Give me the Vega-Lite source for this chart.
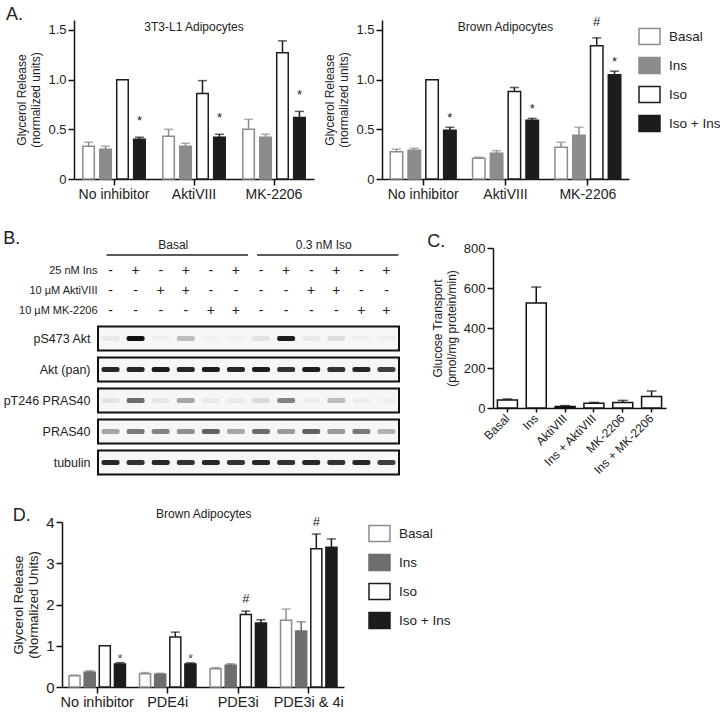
{
  "$schema": "https://vega.github.io/schema/vega-lite/v6.json",
  "padding": {"left": 3, "top": 6, "right": 0, "bottom": 0},
  "config": {
    "font": "Liberation Sans",
    "view": {"stroke": null},
    "axis": {"domainColor": "#111", "domainWidth": 1.5, "tickColor": "#111", "tickWidth": 1.5, "tickSize": 6, "labelColor": "#222", "titleColor": "#222", "grid": false, "titleFontWeight": "normal", "titleFontSize": 12, "labelFontSize": 13, "labelPadding": 2, "titlePadding": 5},
    "title": {"fontWeight": "normal", "fontSize": 18, "anchor": "start", "frame": "bounds", "color": "#222", "offset": 2},
    "legend": {"title": null, "symbolType": "M-1,-0.76H1V0.76H-1Z", "symbolSize": 441, "symbolStrokeWidth": 1.5, "labelFontSize": 13.5, "labelColor": "#222", "rowPadding": 6, "labelOffset": 8, "padding": 0, "offset": 10},
    "text": {"color": "#222"}
  },
  "datasets": {
    "a1": [
      {"grp": "No inhibitor", "cond": "Basal", "mean": 0.33, "upper": 0.37, "sig": ""},
      {"grp": "No inhibitor", "cond": "Ins", "mean": 0.30, "upper": 0.33, "sig": ""},
      {"grp": "No inhibitor", "cond": "Iso", "mean": 1.0, "upper": 1.0, "sig": ""},
      {"grp": "No inhibitor", "cond": "Iso + Ins", "mean": 0.40, "upper": 0.42, "sig": "*"},
      {"grp": "AktiVIII", "cond": "Basal", "mean": 0.43, "upper": 0.50, "sig": ""},
      {"grp": "AktiVIII", "cond": "Ins", "mean": 0.33, "upper": 0.36, "sig": ""},
      {"grp": "AktiVIII", "cond": "Iso", "mean": 0.86, "upper": 0.99, "sig": ""},
      {"grp": "AktiVIII", "cond": "Iso + Ins", "mean": 0.42, "upper": 0.45, "sig": "*"},
      {"grp": "MK-2206", "cond": "Basal", "mean": 0.50, "upper": 0.60, "sig": ""},
      {"grp": "MK-2206", "cond": "Ins", "mean": 0.42, "upper": 0.45, "sig": ""},
      {"grp": "MK-2206", "cond": "Iso", "mean": 1.27, "upper": 1.39, "sig": ""},
      {"grp": "MK-2206", "cond": "Iso + Ins", "mean": 0.62, "upper": 0.68, "sig": "*"}
    ],
    "a2": [
      {"grp": "No inhibitor", "cond": "Basal", "mean": 0.275, "upper": 0.30, "sig": ""},
      {"grp": "No inhibitor", "cond": "Ins", "mean": 0.29, "upper": 0.31, "sig": ""},
      {"grp": "No inhibitor", "cond": "Iso", "mean": 1.0, "upper": 1.0, "sig": ""},
      {"grp": "No inhibitor", "cond": "Iso + Ins", "mean": 0.49, "upper": 0.52, "sig": "*"},
      {"grp": "AktiVIII", "cond": "Basal", "mean": 0.21, "upper": 0.22, "sig": ""},
      {"grp": "AktiVIII", "cond": "Ins", "mean": 0.26, "upper": 0.285, "sig": ""},
      {"grp": "AktiVIII", "cond": "Iso", "mean": 0.88, "upper": 0.92, "sig": ""},
      {"grp": "AktiVIII", "cond": "Iso + Ins", "mean": 0.59, "upper": 0.61, "sig": "*"},
      {"grp": "MK-2206", "cond": "Basal", "mean": 0.32, "upper": 0.37, "sig": ""},
      {"grp": "MK-2206", "cond": "Ins", "mean": 0.44, "upper": 0.52, "sig": ""},
      {"grp": "MK-2206", "cond": "Iso", "mean": 1.34, "upper": 1.42, "sig": "#"},
      {"grp": "MK-2206", "cond": "Iso + Ins", "mean": 1.05, "upper": 1.085, "sig": "*"}
    ],
    "d": [
      {"grp": "No inhibitor", "cond": "Basal", "mean": 0.27, "upper": 0.29, "sig": ""},
      {"grp": "No inhibitor", "cond": "Ins", "mean": 0.36, "upper": 0.39, "sig": ""},
      {"grp": "No inhibitor", "cond": "Iso", "mean": 1.0, "upper": 1.0, "sig": ""},
      {"grp": "No inhibitor", "cond": "Iso + Ins", "mean": 0.56, "upper": 0.59, "sig": "*"},
      {"grp": "PDE4i", "cond": "Basal", "mean": 0.32, "upper": 0.35, "sig": ""},
      {"grp": "PDE4i", "cond": "Ins", "mean": 0.31, "upper": 0.33, "sig": ""},
      {"grp": "PDE4i", "cond": "Iso", "mean": 1.21, "upper": 1.33, "sig": ""},
      {"grp": "PDE4i", "cond": "Iso + Ins", "mean": 0.56, "upper": 0.585, "sig": "*"},
      {"grp": "PDE3i", "cond": "Basal", "mean": 0.44, "upper": 0.47, "sig": ""},
      {"grp": "PDE3i", "cond": "Ins", "mean": 0.53, "upper": 0.56, "sig": ""},
      {"grp": "PDE3i", "cond": "Iso", "mean": 1.76, "upper": 1.84, "sig": "#"},
      {"grp": "PDE3i", "cond": "Iso + Ins", "mean": 1.55, "upper": 1.63, "sig": ""},
      {"grp": "PDE3i & 4i", "cond": "Basal", "mean": 1.62, "upper": 1.89, "sig": ""},
      {"grp": "PDE3i & 4i", "cond": "Ins", "mean": 1.36, "upper": 1.58, "sig": ""},
      {"grp": "PDE3i & 4i", "cond": "Iso", "mean": 3.35, "upper": 3.71, "sig": "#"},
      {"grp": "PDE3i & 4i", "cond": "Iso + Ins", "mean": 3.39, "upper": 3.59, "sig": ""}
    ],
    "gluc": [
      {"cat": "Basal", "mean": 40, "upper": 45},
      {"cat": "Ins", "mean": 525, "upper": 605},
      {"cat": "AktiVIII", "mean": 7, "upper": 12},
      {"cat": "Ins + AktiVIII", "mean": 24, "upper": 28},
      {"cat": "MK-2206", "mean": 28, "upper": 38},
      {"cat": "Ins + MK-2206", "mean": 57, "upper": 85}
    ],
    "lanes": [
      {"lane": 1, "grp": "Basal", "ins": "-", "akti": "-", "mk": "-", "pakt": 0.05, "akt": 0.9, "ppras": 0.08, "pras": 0.35, "tub": 0.9},
      {"lane": 2, "grp": "Basal", "ins": "+", "akti": "-", "mk": "-", "pakt": 1.0, "akt": 0.9, "ppras": 0.6, "pras": 0.55, "tub": 0.85},
      {"lane": 3, "grp": "Basal", "ins": "-", "akti": "+", "mk": "-", "pakt": 0.03, "akt": 0.95, "ppras": 0.06, "pras": 0.5, "tub": 0.9},
      {"lane": 4, "grp": "Basal", "ins": "+", "akti": "+", "mk": "-", "pakt": 0.25, "akt": 0.9, "ppras": 0.35, "pras": 0.45, "tub": 0.85},
      {"lane": 5, "grp": "Basal", "ins": "-", "akti": "-", "mk": "+", "pakt": 0.02, "akt": 0.95, "ppras": 0.05, "pras": 0.65, "tub": 0.9},
      {"lane": 6, "grp": "Basal", "ins": "+", "akti": "-", "mk": "+", "pakt": 0.02, "akt": 0.9, "ppras": 0.05, "pras": 0.35, "tub": 0.85},
      {"lane": 7, "grp": "0.3 nM Iso", "ins": "-", "akti": "-", "mk": "-", "pakt": 0.08, "akt": 0.95, "ppras": 0.12, "pras": 0.6, "tub": 0.9},
      {"lane": 8, "grp": "0.3 nM Iso", "ins": "+", "akti": "-", "mk": "-", "pakt": 0.95, "akt": 0.85, "ppras": 0.5, "pras": 0.4, "tub": 0.85},
      {"lane": 9, "grp": "0.3 nM Iso", "ins": "-", "akti": "+", "mk": "-", "pakt": 0.05, "akt": 0.95, "ppras": 0.04, "pras": 0.65, "tub": 0.9},
      {"lane": 10, "grp": "0.3 nM Iso", "ins": "+", "akti": "+", "mk": "-", "pakt": 0.1, "akt": 0.85, "ppras": 0.25, "pras": 0.4, "tub": 0.85},
      {"lane": 11, "grp": "0.3 nM Iso", "ins": "-", "akti": "-", "mk": "+", "pakt": 0.03, "akt": 0.9, "ppras": 0.04, "pras": 0.55, "tub": 0.9},
      {"lane": 12, "grp": "0.3 nM Iso", "ins": "+", "akti": "-", "mk": "+", "pakt": 0.03, "akt": 0.8, "ppras": 0.03, "pras": 0.3, "tub": 0.8}
    ]
  },
  "vconcat": [
    {
      "hconcat": [
        {
          "width": 252, "height": 159,
          "title": {"text": "A.", "dx": -10, "offset": -4},
          "data": {"name": "a1"},
          "layer": [
            {"mark": {"type": "bar", "strokeWidth": 1.5},
             "encoding": {
               "x": {"field": "grp", "type": "nominal", "sort": ["No inhibitor", "AktiVIII", "MK-2206"], "scale": {"range": [12, 252], "paddingInner": 0.22, "paddingOuter": 0.11}, "axis": {"title": null, "labelAngle": 0, "labelFontSize": 14}},
               "xOffset": {"field": "cond", "type": "nominal", "sort": ["Basal", "Ins", "Iso", "Iso + Ins"], "scale": {"paddingInner": 0.32, "paddingOuter": 0}},
               "y": {"field": "mean", "type": "quantitative", "scale": {"domain": [0, 1.5]}, "axis": {"offset": -12, "values": [0, 0.5, 1, 1.5], "labelExpr": "datum.value == 0 ? '0' : format(datum.value, '.1f')", "title": ["Glycerol Release", "(normalized units)"]}},
               "fill": {"field": "cond", "type": "nominal", "scale": {"domain": ["Basal", "Ins", "Iso", "Iso + Ins"], "range": ["#ffffff", "#8c8c8c", "#ffffff", "#1c1c1c"]}, "legend": null},
               "stroke": {"field": "cond", "type": "nominal", "scale": {"domain": ["Basal", "Ins", "Iso", "Iso + Ins"], "range": ["#8c8c8c", "#8c8c8c", "#1c1c1c", "#1c1c1c"]}, "legend": null}
             }},
            {"transform": [{"filter": "datum.upper > datum.mean"}],
             "mark": {"type": "rule", "strokeWidth": 1.5},
             "encoding": {
               "x": {"field": "grp", "type": "nominal", "sort": ["No inhibitor", "AktiVIII", "MK-2206"]},
               "xOffset": {"field": "cond", "type": "nominal", "sort": ["Basal", "Ins", "Iso", "Iso + Ins"]},
               "y": {"field": "mean", "type": "quantitative"},
               "y2": {"field": "upper"},
               "stroke": {"field": "cond", "type": "nominal", "legend": null}
             }},
            {"transform": [{"filter": "datum.upper > datum.mean"}],
             "mark": {"type": "tick", "orient": "horizontal", "thickness": 1.5, "size": 9},
             "encoding": {
               "x": {"field": "grp", "type": "nominal", "sort": ["No inhibitor", "AktiVIII", "MK-2206"]},
               "xOffset": {"field": "cond", "type": "nominal", "sort": ["Basal", "Ins", "Iso", "Iso + Ins"]},
               "y": {"field": "upper", "type": "quantitative"},
               "color": {"field": "cond", "type": "nominal", "scale": {"domain": ["Basal", "Ins", "Iso", "Iso + Ins"], "range": ["#8c8c8c", "#8c8c8c", "#1c1c1c", "#1c1c1c"]}, "legend": null}
             }},
            {"transform": [{"filter": "datum.sig == '*'"}],
             "mark": {"type": "text", "fontSize": 13, "baseline": "alphabetic", "dy": -12},
             "encoding": {
               "x": {"field": "grp", "type": "nominal", "sort": ["No inhibitor", "AktiVIII", "MK-2206"]},
               "xOffset": {"field": "cond", "type": "nominal", "sort": ["Basal", "Ins", "Iso", "Iso + Ins"]},
               "y": {"field": "upper", "type": "quantitative"},
               "text": {"field": "sig"}
             }},
            {"data": {"values": [{"label": "3T3-L1 Adipocytes"}]},
             "mark": {"type": "text", "fontSize": 12, "baseline": "alphabetic", "dy": 1},
             "encoding": {"x": {"datum": "AktiVIII"}, "y": {"datum": 1.5}, "text": {"field": "label"}}}
          ]
        },
        {
          "width": 247, "height": 159,
          "data": {"name": "a2"},
          "layer": [
            {"mark": {"type": "bar", "strokeWidth": 1.5},
             "encoding": {
               "x": {"field": "grp", "type": "nominal", "sort": ["No inhibitor", "AktiVIII", "MK-2206"], "scale": {"paddingInner": 0.2, "paddingOuter": 0.1}, "axis": {"title": null, "labelAngle": 0, "labelFontSize": 14}},
               "xOffset": {"field": "cond", "type": "nominal", "sort": ["Basal", "Ins", "Iso", "Iso + Ins"], "scale": {"paddingInner": 0.3, "paddingOuter": 0}},
               "y": {"field": "mean", "type": "quantitative", "scale": {"domain": [0, 1.5]}, "axis": {"values": [0, 0.5, 1, 1.5], "labelExpr": "datum.value == 0 ? '0' : format(datum.value, '.1f')", "title": ["Glycerol Release", "(normalized units)"]}},
               "fill": {"field": "cond", "type": "nominal", "scale": {"domain": ["Basal", "Ins", "Iso", "Iso + Ins"], "range": ["#ffffff", "#8c8c8c", "#ffffff", "#1c1c1c"]}, "legend": {"offset": 4, "padding": 5}},
               "stroke": {"field": "cond", "type": "nominal", "scale": {"domain": ["Basal", "Ins", "Iso", "Iso + Ins"], "range": ["#8c8c8c", "#8c8c8c", "#1c1c1c", "#1c1c1c"]}, "legend": {"offset": 4, "padding": 5}}
             }},
            {"transform": [{"filter": "datum.upper > datum.mean"}],
             "mark": {"type": "rule", "strokeWidth": 1.5},
             "encoding": {
               "x": {"field": "grp", "type": "nominal", "sort": ["No inhibitor", "AktiVIII", "MK-2206"]},
               "xOffset": {"field": "cond", "type": "nominal", "sort": ["Basal", "Ins", "Iso", "Iso + Ins"]},
               "y": {"field": "mean", "type": "quantitative"},
               "y2": {"field": "upper"},
               "stroke": {"field": "cond", "type": "nominal"}
             }},
            {"transform": [{"filter": "datum.upper > datum.mean"}],
             "mark": {"type": "tick", "orient": "horizontal", "thickness": 1.5, "size": 9},
             "encoding": {
               "x": {"field": "grp", "type": "nominal", "sort": ["No inhibitor", "AktiVIII", "MK-2206"]},
               "xOffset": {"field": "cond", "type": "nominal", "sort": ["Basal", "Ins", "Iso", "Iso + Ins"]},
               "y": {"field": "upper", "type": "quantitative"},
               "color": {"field": "cond", "type": "nominal", "scale": {"domain": ["Basal", "Ins", "Iso", "Iso + Ins"], "range": ["#8c8c8c", "#8c8c8c", "#1c1c1c", "#1c1c1c"]}, "legend": null}
             }},
            {"transform": [{"filter": "datum.sig == '*'"}],
             "mark": {"type": "text", "fontSize": 13, "baseline": "alphabetic", "dy": -5},
             "encoding": {
               "x": {"field": "grp", "type": "nominal", "sort": ["No inhibitor", "AktiVIII", "MK-2206"]},
               "xOffset": {"field": "cond", "type": "nominal", "sort": ["Basal", "Ins", "Iso", "Iso + Ins"]},
               "y": {"field": "upper", "type": "quantitative"},
               "text": {"field": "sig"}
             }},
            {"transform": [{"filter": "datum.sig == '#'"}],
             "mark": {"type": "text", "fontSize": 13, "baseline": "alphabetic", "dy": -12},
             "encoding": {
               "x": {"field": "grp", "type": "nominal", "sort": ["No inhibitor", "AktiVIII", "MK-2206"]},
               "xOffset": {"field": "cond", "type": "nominal", "sort": ["Basal", "Ins", "Iso", "Iso + Ins"]},
               "y": {"field": "upper", "type": "quantitative"},
               "text": {"field": "sig"}
             }},
            {"data": {"values": [{"label": "Brown Adipocytes"}]},
             "mark": {"type": "text", "fontSize": 12, "baseline": "alphabetic", "dy": 1},
             "encoding": {"x": {"datum": "AktiVIII"}, "y": {"datum": 1.5}, "text": {"field": "label"}}}
          ]
        }
      ],
      "spacing": 9,
      "resolve": {"scale": {"xOffset": "independent", "fill": "independent", "stroke": "independent", "color": "independent"}}
    },
    {
      "hconcat": [
        {
          "vconcat": [
            {
              "width": 337, "height": 80,
              "data": {"name": "lanes"},
              "layer": [
                {"transform": [{"fold": ["ins", "akti", "mk"], "as": ["trt", "sign"]}],
                 "mark": {"type": "text", "fontSize": 14},
                 "encoding": {
                   "x": {"field": "lane", "type": "quantitative", "scale": {"domain": [0.5, 12.5], "range": [36, 337], "nice": false, "zero": false}, "axis": null},
                   "y": {"field": "trt", "type": "nominal", "scale": {"domain": ["hdr", "ins", "akti", "mk"]}, "axis": {"offset": -36, "title": null, "domain": false, "ticks": false, "labelFontSize": 11, "labelPadding": 1, "labelExpr": "datum.value == 'ins' ? '25 nM Ins' : datum.value == 'akti' ? '10 µM AktiVIII' : datum.value == 'mk' ? '10 µM MK-2206' : ''"}},
                   "text": {"field": "sign"}
                 }},
                {"mark": {"type": "text", "fontSize": 12, "dy": -6},
                 "encoding": {
                   "x": {"aggregate": "mean", "field": "lane", "type": "quantitative"},
                   "y": {"datum": "hdr"},
                   "text": {"field": "grp"}
                 }},
                {"mark": {"type": "rule", "strokeWidth": 1.5, "color": "#222", "yOffset": 4, "xOffset": -4, "x2Offset": 12},
                 "encoding": {
                   "x": {"aggregate": "min", "field": "lane", "type": "quantitative"},
                   "x2": {"aggregate": "max", "field": "lane"},
                   "y": {"datum": "hdr"},
                   "detail": {"field": "grp"}
                 }}
              ]
            },
            {
              "width": 337, "height": 155,
              "data": {"name": "lanes"},
              "transform": [{"fold": ["pakt", "akt", "ppras", "pras", "tub"], "as": ["protein", "intensity"]}],
              "layer": [
                {"transform": [{"aggregate": [{"op": "count", "as": "n"}], "groupby": ["protein"]}],
                 "mark": {"type": "rect", "fill": "#f6f6f6", "stroke": "#111", "strokeWidth": 2},
                 "encoding": {
                   "x": {"datum": 0.5, "type": "quantitative", "scale": {"domain": [0.5, 12.5], "range": [36, 337], "nice": false, "zero": false}, "axis": null},
                   "x2": {"datum": 12.5},
                   "y": {"field": "protein", "type": "nominal", "scale": {"domain": ["pakt", "akt", "ppras", "pras", "tub"], "paddingInner": 0.23, "paddingOuter": 0.115}, "axis": {"offset": -36, "title": null, "domain": false, "ticks": false, "labelFontSize": 12.5, "labelPadding": 8, "labelExpr": "datum.value == 'pakt' ? 'pS473 Akt' : datum.value == 'akt' ? 'Akt (pan)' : datum.value == 'ppras' ? 'pT246 PRAS40' : datum.value == 'pras' ? 'PRAS40' : 'tubulin'"}}
                 }},
                {"mark": {"type": "tick", "orient": "horizontal", "size": 18, "thickness": 5, "color": "#111", "cornerRadius": 2},
                 "encoding": {
                   "x": {"field": "lane", "type": "quantitative"},
                   "y": {"field": "protein", "type": "nominal"},
                   "opacity": {"field": "intensity", "type": "quantitative", "scale": {"domain": [0, 1], "range": [0, 1]}, "legend": null}
                 }}
              ]
            }
          ],
          "spacing": 2,
          "title": {"text": "B.", "offset": -9}
        },
        {
          "width": 173, "height": 167,
          "title": {"text": "C.", "dx": -4, "offset": -10},
          "data": {"name": "gluc"},
          "encoding": {
            "x": {"field": "cat", "type": "nominal", "sort": ["Basal", "Ins", "AktiVIII", "Ins + AktiVIII", "MK-2206", "Ins + MK-2206"], "scale": {"paddingInner": 0.3, "paddingOuter": 0.15}, "axis": {"title": null, "labelAngle": -45, "labelAlign": "right", "labelBaseline": "middle", "labelFontSize": 12, "labelPadding": 4, "tickSize": 4}}
          },
          "layer": [
            {"mark": {"type": "bar", "fill": "#ffffff", "stroke": "#111", "strokeWidth": 1.5},
             "encoding": {
               "y": {"field": "mean", "type": "quantitative", "scale": {"domain": [0, 800], "range": [167, 7]}, "axis": {"values": [0, 100, 200, 300, 400, 500, 600, 700, 800], "labelExpr": "datum.value % 200 == 0 ? datum.label : ''", "title": ["Glucose Transport", "(pmol/mg protein/min)"], "labelFontSize": 13}},
               "size": {"field": "cat", "type": "nominal", "scale": {"domain": ["Basal", "Ins", "AktiVIII", "Ins + AktiVIII", "MK-2206", "Ins + MK-2206"], "range": [20, 20, 12, 12, 12, 12]}, "legend": null}
             }},
            {"mark": {"type": "rule", "color": "#111", "strokeWidth": 1.5},
             "encoding": {"y": {"field": "mean", "type": "quantitative"}, "y2": {"field": "upper"}}},
            {"mark": {"type": "tick", "orient": "horizontal", "color": "#111", "thickness": 1.5, "size": 10},
             "encoding": {"y": {"field": "upper", "type": "quantitative"}}}
          ]
        }
      ],
      "spacing": 27
    },
    {
      "hconcat": [
        {
          "width": 282, "height": 165,
          "title": {"text": "D.", "offset": -17},
          "data": {"name": "d"},
          "layer": [
            {"mark": {"type": "bar", "strokeWidth": 1.5},
             "encoding": {
               "x": {"field": "grp", "type": "nominal", "sort": ["No inhibitor", "PDE4i", "PDE3i", "PDE3i & 4i"], "scale": {"paddingInner": 0.2, "paddingOuter": 0.1}, "axis": {"title": null, "labelAngle": 0, "labelFontSize": 14.5}},
               "xOffset": {"field": "cond", "type": "nominal", "sort": ["Basal", "Ins", "Iso", "Iso + Ins"], "scale": {"paddingInner": 0.27, "paddingOuter": 0}},
               "y": {"field": "mean", "type": "quantitative", "scale": {"domain": [0, 4]}, "axis": {"values": [0, 1, 2, 3, 4], "labelFontSize": 15, "title": ["Glycerol Release", "(Normalized Units)"], "titleFontSize": 13}},
               "fill": {"field": "cond", "type": "nominal", "scale": {"domain": ["Basal", "Ins", "Iso", "Iso + Ins"], "range": ["#ffffff", "#6e6e6e", "#ffffff", "#1c1c1c"]}, "legend": {"offset": 24}},
               "stroke": {"field": "cond", "type": "nominal", "scale": {"domain": ["Basal", "Ins", "Iso", "Iso + Ins"], "range": ["#8c8c8c", "#6e6e6e", "#1c1c1c", "#1c1c1c"]}, "legend": {"offset": 24}}
             }},
            {"transform": [{"filter": "datum.upper > datum.mean"}],
             "mark": {"type": "rule", "strokeWidth": 1.5},
             "encoding": {
               "x": {"field": "grp", "type": "nominal", "sort": ["No inhibitor", "PDE4i", "PDE3i", "PDE3i & 4i"]},
               "xOffset": {"field": "cond", "type": "nominal", "sort": ["Basal", "Ins", "Iso", "Iso + Ins"]},
               "y": {"field": "mean", "type": "quantitative"},
               "y2": {"field": "upper"},
               "stroke": {"field": "cond", "type": "nominal"}
             }},
            {"transform": [{"filter": "datum.upper > datum.mean"}],
             "mark": {"type": "tick", "orient": "horizontal", "thickness": 1.5, "size": 9},
             "encoding": {
               "x": {"field": "grp", "type": "nominal", "sort": ["No inhibitor", "PDE4i", "PDE3i", "PDE3i & 4i"]},
               "xOffset": {"field": "cond", "type": "nominal", "sort": ["Basal", "Ins", "Iso", "Iso + Ins"]},
               "y": {"field": "upper", "type": "quantitative"},
               "color": {"field": "cond", "type": "nominal", "scale": {"domain": ["Basal", "Ins", "Iso", "Iso + Ins"], "range": ["#8c8c8c", "#6e6e6e", "#1c1c1c", "#1c1c1c"]}, "legend": null}
             }},
            {"transform": [{"filter": "datum.sig == '*'"}],
             "mark": {"type": "text", "fontSize": 13, "baseline": "alphabetic", "dy": 0, "color": "#555"},
             "encoding": {
               "x": {"field": "grp", "type": "nominal", "sort": ["No inhibitor", "PDE4i", "PDE3i", "PDE3i & 4i"]},
               "xOffset": {"field": "cond", "type": "nominal", "sort": ["Basal", "Ins", "Iso", "Iso + Ins"]},
               "y": {"field": "upper", "type": "quantitative"},
               "text": {"field": "sig"}
             }},
            {"transform": [{"filter": "datum.sig == '#'"}],
             "mark": {"type": "text", "fontSize": 13, "baseline": "alphabetic", "dy": -8},
             "encoding": {
               "x": {"field": "grp", "type": "nominal", "sort": ["No inhibitor", "PDE4i", "PDE3i", "PDE3i & 4i"]},
               "xOffset": {"field": "cond", "type": "nominal", "sort": ["Basal", "Ins", "Iso", "Iso + Ins"]},
               "y": {"field": "upper", "type": "quantitative"},
               "text": {"field": "sig"}
             }},
            {"data": {"values": [{"label": "Brown Adipocytes"}]},
             "mark": {"type": "text", "fontSize": 12, "baseline": "alphabetic", "dy": -4, "dx": 36},
             "encoding": {"x": {"datum": "PDE4i"}, "y": {"datum": 4}, "text": {"field": "label"}}}
          ]
        }
      ]
    }
  ],
  "spacing": 29,
  "resolve": {"scale": {"fill": "independent", "stroke": "independent", "color": "independent", "xOffset": "independent", "size": "independent", "opacity": "independent"}}
}
